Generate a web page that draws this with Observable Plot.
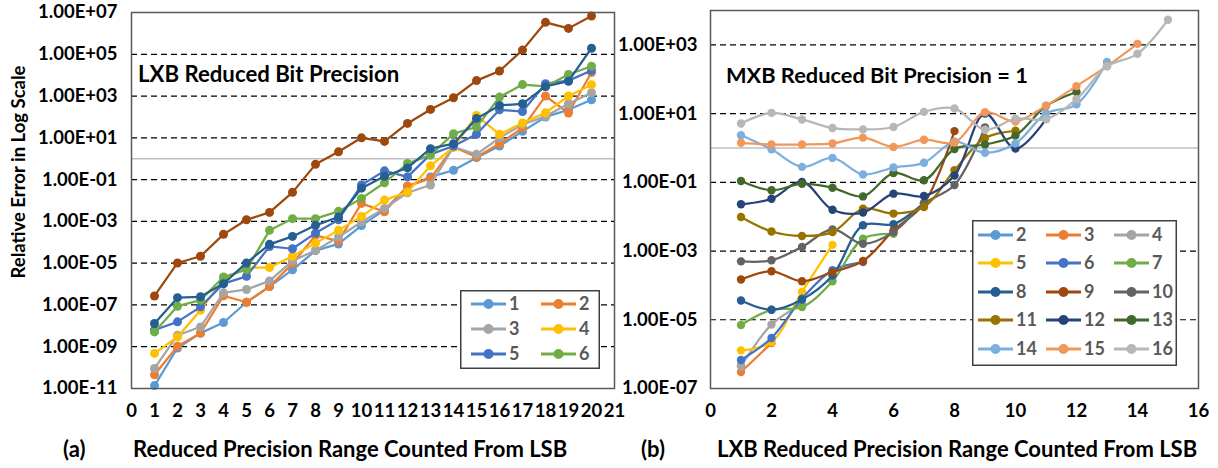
<!DOCTYPE html>
<html><head><meta charset="utf-8">
<script src="https://cdn.jsdelivr.net/npm/d3@7"></script>
<script src="https://cdn.jsdelivr.net/npm/@observablehq/plot@0.6"></script>
<style>
body{margin:0;background:#fff;}
#root{position:relative;width:1218px;height:468px;overflow:hidden;font-family:Lato,"Open Sans",sans-serif;font-weight:700;color:#000;background:#fff;}
.abs{position:absolute;white-space:nowrap;line-height:1;font-weight:700;}
</style></head><body><div id="root"></div>
<script>
// ---------- Panel (a): LXB reduced bit precision (values are log10 of relative error) ----------
const lxbX = [1,2,3,4,5,6,7,8,9,10,11,12,13,14,15,16,17,18,19,20];
const lxbNames = ["1","2","3","4","5","6","7","8"];
const lxbColors = ["#5B9BD5","#ED7D31","#A5A5A5","#FFC000","#4472C4","#70AD47","#255E91","#9E480E"];
const lxb1 = [-10.86,-9.06,-8.35,-7.84,-6.87,-6.12,-5.32,-4.40,-4.08,-3.20,-2.45,-1.35,-0.87,-0.55,0.05,0.61,1.31,2.00,2.34,2.82];
const lxb2 = [-10.34,-8.98,-8.35,-6.56,-6.87,-6.12,-5.02,-3.67,-3.94,-2.14,-2.54,-1.30,-0.95,0.56,0.08,0.72,1.47,3.00,2.19,4.13];
const lxb3 = [-10.04,-8.45,-8.05,-6.42,-6.26,-5.85,-4.89,-4.39,-3.75,-3.03,-2.38,-1.63,-1.26,0.56,0.21,1.00,1.64,2.03,2.63,3.16];
const lxb4 = [-9.32,-8.53,-7.25,-5.79,-5.21,-5.21,-4.67,-4.04,-3.43,-2.76,-1.98,-1.59,-0.34,0.56,2.07,1.17,1.71,2.20,3.00,3.54];
const lxb5 = [-8.20,-7.81,-7.09,-5.98,-5.63,-4.20,-4.31,-3.56,-2.92,-1.26,-0.58,-0.87,0.21,0.61,1.17,2.34,2.26,3.59,3.74,4.22];
const lxb6 = [-8.29,-7.06,-6.77,-5.66,-5.31,-3.43,-2.87,-2.87,-2.52,-1.90,-1.15,-0.23,0.17,1.20,1.52,2.95,3.55,3.46,4.03,4.43];
const lxb7 = [-7.89,-6.65,-6.61,-5.98,-4.99,-4.10,-3.72,-3.19,-2.79,-1.41,-0.84,-0.44,0.48,0.72,1.92,2.55,2.63,3.46,3.71,5.29];
const lxb8 = [-6.57,-4.99,-4.67,-3.62,-2.92,-2.57,-1.61,-0.27,0.33,1.00,0.83,1.69,2.36,2.92,3.74,4.20,5.20,6.53,6.24,6.83];
const lxbSeries = [lxb1,lxb2,lxb3,lxb4,lxb5,lxb6,lxb7,lxb8];
const lxbLegend = ["1","2","3","4","5","6"];
const xTicksA = [0,1,2,3,4,5,6,7,8,9,10,11,12,13,14,15,16,17,18,19,20,21];
const yTicksA = [1e-11,1e-9,1e-7,1e-5,1e-3,1e-1,1e1,1e3,1e5,1e7];
const gridA = [1e-9,1e-7,1e-5,1e-3,1e-1,1e1,1e3,1e5];

// ---------- Panel (b): MXB reduced bit precision = 1 (series n has points x = 1..n-1) ----------
const mxbNames = ["2","3","4","5","6","7","8","9","10","11","12","13","14","15","16"];
const mxbColors = ["#5B9BD5","#ED7D31","#A5A5A5","#FFC000","#4472C4","#70AD47","#255E91","#9E480E","#636363","#997300","#264478","#43682B","#7CAFDD","#F1975A","#B7B7B7"];
const mxb2 = [-6.33];
const mxb3 = [-6.52,-5.68];
const mxb4 = [-6.36,-5.14,-4.55];
const mxb5 = [-5.89,-5.65,-4.19,-2.82];
const mxb6 = [-6.17,-5.53,-4.39,-3.56,-3.32];
const mxb7 = [-5.15,-4.71,-4.63,-3.88,-2.64,-2.50];
const mxb8 = [-4.44,-4.71,-4.41,-3.71,-2.25,-2.22,-1.60];
const mxb9 = [-3.83,-3.59,-3.88,-3.61,-3.29,-2.40,-1.62,0.49];
const mxb10 = [-3.30,-3.27,-2.88,-2.37,-2.79,-2.45,-1.62,-1.08,0.60];
const mxb11 = [-2.01,-2.43,-2.56,-2.45,-1.77,-1.91,-1.72,-0.65,0.29,0.50];
const mxb12 = [-1.64,-1.48,-0.99,-1.80,-1.88,-1.33,-1.40,-0.80,1.00,-0.02,0.84];
const mxb13 = [-0.96,-1.23,-1.04,-1.16,-1.41,-0.73,-0.94,-0.03,0.10,0.36,1.22,1.63];
const mxb14 = [0.37,-0.04,-0.55,-0.29,-0.77,-0.57,-0.43,0.18,-0.14,0.13,1.00,1.27,2.50];
const mxb15 = [0.15,0.10,0.10,0.13,0.30,0.03,0.24,0.16,1.04,0.77,1.23,1.80,2.38,3.03];
const mxb16 = [0.71,1.02,0.83,0.58,0.54,0.61,1.05,1.15,0.53,0.85,0.84,1.42,2.38,2.74,3.73];
const mxbSeries = [mxb2,mxb3,mxb4,mxb5,mxb6,mxb7,mxb8,mxb9,mxb10,mxb11,mxb12,mxb13,mxb14,mxb15,mxb16];
const xTicksB = [0,2,4,6,8,10,12,14,16];
const yTicksB = [1e-7,1e-5,1e-3,1e-1,1e1,1e3];
const gridB = [1e-5,1e-3,1e-1,1e1,1e3];

// ---------- text ----------
const yTitle = "Relative Error in Log Scale";
const annA = "LXB Reduced Bit Precision";
const annB = "MXB Reduced Bit Precision = 1";
const tagA = "(a)", tagB = "(b)";
const xTitleA = "Reduced Precision Range Counted From LSB";
const xTitleB = "LXB Reduced Precision Range Counted From LSB";

const sci = v => { const e = Math.round(Math.log10(v)); return "1.00E" + (e < 0 ? "-" : "+") + String(Math.abs(e)).padStart(2, "0"); };

const rowsA = lxbSeries.flatMap((vals, i) => vals.map((e, j) => ({s: lxbNames[i], x: lxbX[j], v: Math.pow(10, e)})));
const rowsB = mxbSeries.flatMap((vals, i) => vals.map((e, j) => ({s: mxbNames[i], x: j + 1, v: Math.pow(10, e)})));

const root = document.getElementById("root");
const FONT = "Lato, 'Open Sans', sans-serif";
const style = {fontFamily: FONT, fontSize: "18.5px", fontWeight: 700, color: "#000", background: "transparent", overflow: "visible"};

const plotA = Plot.plot({
  width: 620, height: 430, marginLeft: 131, marginRight: 6, marginTop: 12, marginBottom: 42,
  style,
  x: {domain: [0, 21], ticks: xTicksA, tickSize: 0, tickPadding: 15, label: null},
  y: {type: "log", domain: [1e-11, 1e7], ticks: yTicksA, tickFormat: sci, tickSize: 0, tickPadding: 14, label: null},
  color: {domain: lxbNames, range: lxbColors},
  marks: [
    Plot.ruleY(gridA, {stroke: "#000", strokeWidth: 1.2, strokeDasharray: "6,4"}),
    Plot.ruleY([1], {stroke: "#BFBFBF", strokeWidth: 1.5}),
    ...lxbNames.flatMap(n => {
      const d = rowsA.filter(r => r.s === n);
      return [Plot.line(d, {x: "x", y: "v", stroke: "s", strokeWidth: 2.25}),
              Plot.dot(d, {x: "x", y: "v", fill: "s", r: 4.5})];
    }),
    Plot.frame({stroke: "#595959", strokeWidth: 1.5})
  ]
});
const wrapA = document.createElement("div");
wrapA.className = "abs"; wrapA.style.left = "0px"; wrapA.style.top = "0px";
wrapA.appendChild(plotA); root.appendChild(wrapA);

const plotB = Plot.plot({
  width: 608, height: 430, marginLeft: 100, marginRight: 20, marginTop: 10, marginBottom: 42,
  style,
  x: {domain: [0, 16], ticks: xTicksB, tickSize: 0, tickPadding: 15, label: null},
  y: {type: "log", domain: [1e-7, 1e4], ticks: yTicksB, tickFormat: sci, tickSize: 0, tickPadding: 13, label: null},
  color: {domain: mxbNames, range: mxbColors},
  marks: [
    Plot.ruleY(gridB, {stroke: "#000", strokeWidth: 1.2, strokeDasharray: "6,4"}),
    Plot.ruleY([1], {stroke: "#BFBFBF", strokeWidth: 1.5}),
    ...mxbNames.flatMap(n => {
      const d = rowsB.filter(r => r.s === n);
      return [Plot.line(d, {x: "x", y: "v", stroke: "s", strokeWidth: 2.25, curve: "catmull-rom"}),
              Plot.dot(d, {x: "x", y: "v", fill: "s", r: 4.2})];
    }),
    Plot.frame({stroke: "#595959", strokeWidth: 1.5})
  ]
});
const wrapB = document.createElement("div");
wrapB.className = "abs"; wrapB.style.left = "610px"; wrapB.style.top = "0px";
wrapB.appendChild(plotB); root.appendChild(wrapB);

function addText(txt, left, cy, size) {
  const el = document.createElement("div");
  el.className = "abs";
  el.textContent = txt;
  el.style.fontSize = size + "px";
  el.style.left = left + "px";
  el.style.top = (cy - 0.53 * size) + "px";
  root.appendChild(el);
  return el;
}

const svgNS = "http://www.w3.org/2000/svg";
// rotated y title (SVG text, crisp)
const ysvg = document.createElementNS(svgNS, "svg");
ysvg.setAttribute("width", 40); ysvg.setAttribute("height", 468);
ysvg.style.position = "absolute"; ysvg.style.left = "0px"; ysvg.style.top = "0px";
const ytx = document.createElementNS(svgNS, "text");
ytx.setAttribute("transform", "translate(18,172) rotate(-90)");
ytx.setAttribute("text-anchor", "middle"); ytx.setAttribute("dy", "0.36em");
ytx.setAttribute("font-size", 18.5); ytx.setAttribute("font-weight", 700); ytx.setAttribute("font-family", FONT);
ytx.setAttribute("fill", "#000");
ytx.textContent = yTitle;
ysvg.appendChild(ytx); root.appendChild(ysvg);

addText(annA, 138, 75, 22.2);
addText(annB, 726, 76, 21.8);
addText(xTitleA, 133, 450, 22);
addText(xTitleB, 717, 450, 22);
addText(tagA, 63, 450, 22);
addText(tagB, 641, 450, 22);

// legends
function legend(names, colorsFor, box, cols, rowYs, colXs) {
  const svg = document.createElementNS(svgNS, "svg");
  svg.setAttribute("width", box.w); svg.setAttribute("height", box.h);
  svg.style.position = "absolute"; svg.style.left = box.x + "px"; svg.style.top = box.y + "px";
  const rect = document.createElementNS(svgNS, "rect");
  rect.setAttribute("x", 0.75); rect.setAttribute("y", 0.75);
  rect.setAttribute("width", box.w - 1.5); rect.setAttribute("height", box.h - 1.5);
  rect.setAttribute("fill", "#fff"); rect.setAttribute("stroke", "#404040"); rect.setAttribute("stroke-width", 1.5);
  svg.appendChild(rect);
  names.forEach((n, i) => {
    const r = Math.floor(i / cols), c = i % cols;
    const y = rowYs[r] - box.y, x0 = colXs[c] - box.x;
    const ln = document.createElementNS(svgNS, "line");
    ln.setAttribute("x1", x0); ln.setAttribute("x2", x0 + 35); ln.setAttribute("y1", y); ln.setAttribute("y2", y);
    ln.setAttribute("stroke", colorsFor(n)); ln.setAttribute("stroke-width", 3);
    svg.appendChild(ln);
    const dt = document.createElementNS(svgNS, "circle");
    dt.setAttribute("cx", x0 + 17.5); dt.setAttribute("cy", y); dt.setAttribute("r", 5);
    dt.setAttribute("fill", colorsFor(n));
    svg.appendChild(dt);
    const tx = document.createElementNS(svgNS, "text");
    tx.setAttribute("x", x0 + 38); tx.setAttribute("y", y); tx.setAttribute("dy", "0.36em");
    tx.setAttribute("fill", "#595959"); tx.setAttribute("font-size", 18); tx.setAttribute("font-weight", 700);
    tx.setAttribute("font-family", FONT);
    tx.textContent = n;
    svg.appendChild(tx);
  });
  root.appendChild(svg);
}
const colA = n => lxbColors[lxbNames.indexOf(n)];
const colB = n => mxbColors[mxbNames.indexOf(n)];
legend(lxbLegend, colA, {x: 460, y: 290, w: 140, h: 79}, 2, [304, 329, 354], [471, 541]);
legend(mxbNames, colB, {x: 972, y: 220, w: 205, h: 146}, 3, [235, 263, 292, 320, 349], [978, 1046, 1114]);
</script></body></html>
